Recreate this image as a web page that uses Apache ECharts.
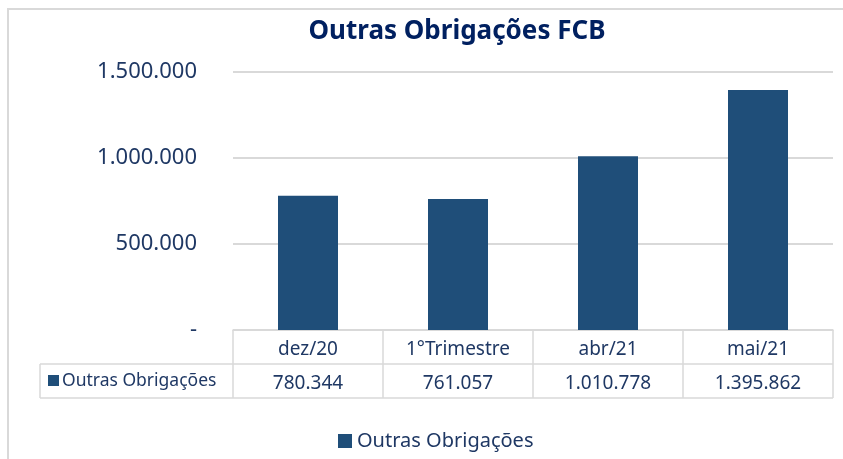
<!DOCTYPE html>
<html>
<head>
<meta charset="utf-8">
<script src="https://cdn.jsdelivr.net/npm/echarts@6/dist/echarts.min.js"></script>
<style>
  html, body { margin: 0; padding: 0; background: #fff; }
  #chart { width: 843px; height: 459px; }
</style>
</head>
<body>
<div id="chart"></div>
<script>
const categories = ["dez/20", "1°Trimestre", "abr/21", "mai/21"];
const values = [780344, 761057, 1010778, 1395862];
const seriesName = "Outras Obrigações";
const yTicks = [0, 500000, 1000000, 1500000];

const font = "'Liberation Sans Narrow', 'Noto Sans', sans-serif";
const navy = "#1f3864";
const barColor = "#1f4e79";
const lineGray = "#d9d9d9";

// 1.395.862 style
const fmt = (v) => (v === 0 ? "-" : String(v).replace(/\B(?=(\d{3})+(?!\d))/g, "."));

const myChart = echarts.init(document.getElementById("chart"));
myChart.setOption({
  animation: false,
  title: {
    text: "Outras Obrigações FCB",
    left: 452,
    textAlign: "center",
    top: 14,
    textStyle: { color: "#002060", fontSize: 26, fontWeight: "bold", fontFamily: font },
  },
  grid: { left: 233, right: 10, top: 72, bottom: 129 },
  legend: {
    data: [seriesName],
    left: 333,
    top: 426,
    icon: "rect",
    itemWidth: 14,
    itemHeight: 14,
    itemGap: 6,
    textStyle: { color: navy, fontSize: 20, fontFamily: font },
  },
  xAxis: [
    {
      type: "category",
      data: categories,
      axisLine: { show: true, lineStyle: { color: lineGray, width: 1.5 } },
      axisTick: { show: true, length: 68, lineStyle: { color: lineGray, width: 1.5 } },
      axisLabel: { color: navy, fontSize: 19, fontFamily: font, margin: 10 },
    },
    {
      type: "category",
      data: categories,
      position: "bottom",
      offset: 34,
      axisLine: { show: false },
      axisTick: { show: false },
      axisLabel: {
        color: navy,
        fontSize: 19,
        fontFamily: font,
        margin: 10,
        formatter: (v, i) => fmt(values[i]),
      },
    },
  ],
  yAxis: {
    type: "value",
    min: yTicks[0],
    max: yTicks[yTicks.length - 1],
    interval: 500000,
    axisLine: { show: false },
    axisTick: { show: false },
    splitLine: { lineStyle: { color: lineGray, width: 2 } },
    axisLabel: { color: navy, fontSize: 22, fontFamily: font, margin: 36, formatter: fmt },
  },
  series: [
    {
      name: seriesName,
      type: "bar",
      data: values,
      barWidth: 60,
      itemStyle: { color: barColor },
    },
  ],
  graphic: [
    {
      type: "rect",
      shape: { x: 8, y: 9, width: 900, height: 600 },
      style: { fill: "none", stroke: lineGray, lineWidth: 2 },
      silent: true,
    },
    {
      type: "line",
      shape: { x1: 40, y1: 364, x2: 833, y2: 364 },
      style: { stroke: lineGray, lineWidth: 1.5 },
    },
    {
      type: "line",
      shape: { x1: 40, y1: 398, x2: 833, y2: 398 },
      style: { stroke: lineGray, lineWidth: 1.5 },
    },
    {
      type: "line",
      shape: { x1: 40, y1: 364, x2: 40, y2: 398 },
      style: { stroke: lineGray, lineWidth: 1.5 },
    },
    {
      type: "rect",
      shape: { x: 48, y: 375, width: 11, height: 11 },
      style: { fill: barColor },
    },
    {
      type: "text",
      x: 62,
      y: 381,
      style: {
        text: seriesName,
        fill: navy,
        font: "17.5px " + font,
        verticalAlign: "middle",
      },
    },
  ],
});
</script>
</body>
</html>
